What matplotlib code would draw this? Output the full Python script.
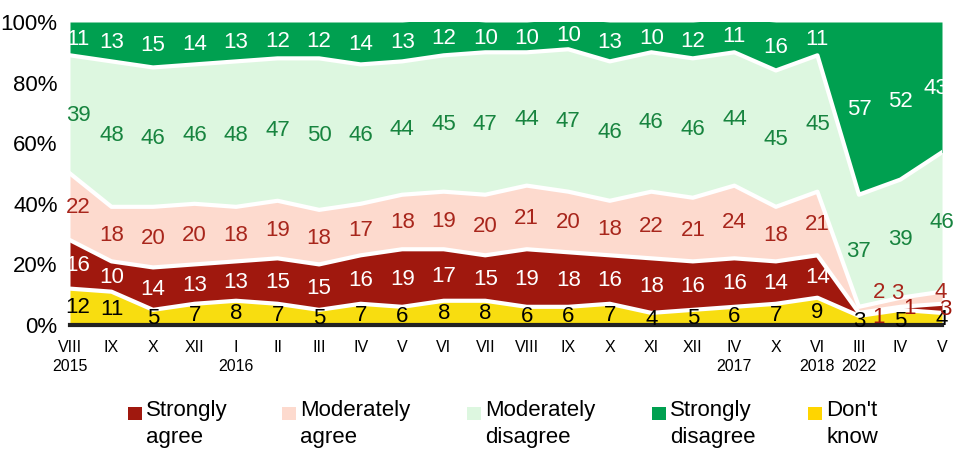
import matplotlib.pyplot as plt
from matplotlib.patches import Rectangle

plt.rcParams['font.family'] = ['Liberation Sans', 'DejaVu Sans']

months = ['VIII', 'IX', 'X', 'XII', 'I', 'II', 'III', 'IV', 'V', 'VI', 'VII',
          'VIII', 'IX', 'X', 'XI', 'XII', 'IV', 'X', 'VI', 'III', 'IV', 'V']
years = ['2015', '', '', '', '2016', '', '', '', '', '', '',
         '', '', '', '', '', '2017', '', '2018', '2022', '', '']

dont_know = [12, 11, 5, 7, 8, 7, 5, 7, 6, 8, 8, 6, 6, 7, 4, 5, 6, 7, 9, 3, 5, 4]
strongly_agree = [16, 10, 14, 13, 13, 15, 15, 16, 19, 17, 15, 19, 18, 16, 18, 16, 16, 14, 14, 1, 1, 3]
moderately_agree = [22, 18, 20, 20, 18, 19, 18, 17, 18, 19, 20, 21, 20, 18, 22, 21, 24, 18, 21, 2, 3, 4]
moderately_disagree = [39, 48, 46, 46, 48, 47, 50, 46, 44, 45, 47, 44, 47, 46, 46, 46, 44, 45, 45, 37, 39, 46]
strongly_disagree = [11, 13, 15, 14, 13, 12, 12, 14, 13, 12, 10, 10, 10, 13, 10, 12, 11, 16, 11, 57, 52, 43]

# bottom -> top
series = [
    ("Don't\nknow", dont_know, '#F8DD10', '#FFD500', 'black'),
    ('Strongly\nagree', strongly_agree, '#A0180E', '#A0180E', 'white'),
    ('Moderately\nagree', moderately_agree, '#FDDACE', '#FDDACE', '#A8261C'),
    ('Moderately\ndisagree', moderately_disagree, '#DDF7E0', '#DDF7E0', '#17843F'),
    ('Strongly\ndisagree', strongly_disagree, '#00A050', '#00A050', 'white'),
]

# label nudges in pixels (series index, point index) -> (dx, dy)
nudges = {
    (0, 20): (0, -3),
    (1, 19): (20, -2), (1, 20): (9, 1), (1, 21): (3, 0),
    (2, 19): (20, 18), (2, 20): (-3, 10), (2, 21): (-1, 6),
    (4, 21): (-6, 0),
}

W, H = 956, 455
fig = plt.figure(figsize=(W / 100, H / 100), dpi=100)
ax = fig.add_axes([70 / W, 1 - 325 / H, 872 / W, 303 / H])

x = list(range(len(months)))
bottom = [0] * len(x)
for si, (name, vals, color, lcolor, tcolor) in enumerate(series):
    top = [b + v for b, v in zip(bottom, vals)]
    ax.fill_between(x, bottom, top, color=color, linewidth=0, zorder=1)
    if si > 0:
        ax.plot(x, bottom, color='white', lw=3, zorder=2)
    for i, v in enumerate(vals):
        c = tcolor
        if si == 1 and i >= 19:
            c = '#A0180E'
        dx, dy = nudges.get((si, i), (0, 0))
        if i == 0:
            dx += 8
        ax.annotate(str(v), (i, bottom[i] + v / 2), xytext=(dx, dy - 1),
                    textcoords='offset pixels', ha='center', va='center',
                    fontsize=16, color=c, zorder=5, annotation_clip=False)
    bottom = top

ax.plot([x[0], x[-1]], [0, 0], color='#222222', lw=3, zorder=4,
        solid_capstyle='projecting', clip_on=False)

ax.set_xlim(x[0], x[-1])
ax.set_ylim(0, 100)
ax.set_yticks([0, 20, 40, 60, 80, 100])
ax.set_yticklabels([f'{t}%' for t in [0, 20, 40, 60, 80, 100]], fontsize=16)
ax.set_xticks(x)
ax.set_xticklabels([m + ('\n' + y if y else '') for m, y in zip(months, years)],
                   fontsize=11.5, linespacing=1.4, va='top')
ax.tick_params(length=0)
ax.tick_params(axis='y', pad=9)
ax.tick_params(axis='x', pad=10.5)
for s in ax.spines.values():
    s.set_visible(False)

# legend drawn by hand (patch aligned to first text line)
leg_x = [128, 282, 467, 652, 808]
order = [1, 2, 3, 4, 0]
for px, si in zip(leg_x, order):
    name, _, _, lcolor, _ = series[si]
    fig.patches.append(Rectangle((px / W, 1 - 420 / H), 14 / W, 13 / H,
                                 facecolor=lcolor, edgecolor='none',
                                 transform=fig.transFigure))
    fig.text((px + 18) / W, 1 - 400 / H, name, fontsize=16, va='top',
             ha='left', linespacing=1.4)

fig.savefig('out.png', dpi=100)
